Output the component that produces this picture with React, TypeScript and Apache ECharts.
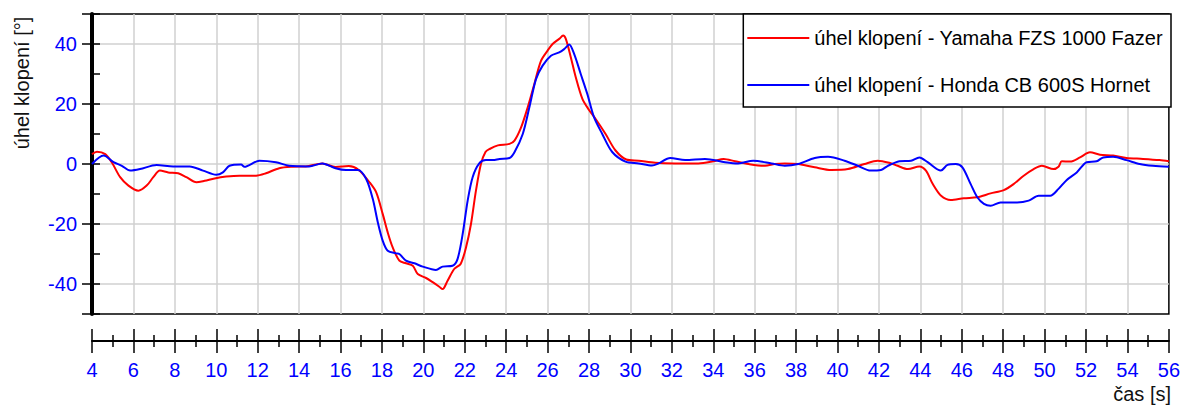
import React, { useEffect, useRef } from 'react';
import * as echarts from 'echarts';

// Bank angle over time, two motorcycles
const yamahaTime = [
  4.0, 4.24, 4.64, 4.96, 5.36, 5.76, 6.24, 6.64, 6.96, 7.28, 7.68, 8.16, 8.56, 9.04, 9.44, 9.92,
  10.48, 11.12, 11.92, 12.4, 13.04, 13.68, 14.32, 15.12, 15.76, 16.4, 16.88, 17.4, 17.72, 18.04,
  18.28, 18.52, 18.84, 19.16, 19.49, 19.73, 20.13, 20.45, 20.77, 20.93, 21.17, 21.49, 21.8, 22.06,
  22.3, 22.54, 22.78, 23.0, 23.2, 23.6, 24.16, 24.4, 24.72, 25.04, 25.36, 25.68, 26.0, 26.24,
  26.56, 26.75, 26.88, 27.12, 27.36, 27.68, 28.0, 28.32, 28.8, 29.28, 29.8, 30.4, 31.2, 32.16,
  33.28, 34.0, 34.5, 35.05, 35.7, 36.5, 36.97, 37.45, 38.1, 38.9, 39.7, 40.5, 41.3, 41.94, 42.5,
  42.9, 43.4, 43.95, 44.27, 44.6, 45.0, 45.47, 46.1, 46.75, 47.39, 48.03, 48.5, 48.99, 49.47,
  49.87, 50.43, 50.67, 50.83, 51.23, 51.71, 52.19, 52.67, 53.31, 53.95, 54.75, 55.55, 56.0,
];
const yamahaAngle = [
  3.3, 4.1, 3.3, 0.5, -4.4, -7.2, -8.9, -7.2, -4.4, -2.2, -2.8, -3.1, -4.4, -6.1, -5.6, -4.8,
  -4.2, -3.9, -3.9, -3.1, -1.4, -0.9, -0.8, 0.2, -1.0, -0.7, -2.0, -6.1, -9.4, -16.7,
  -22.8, -27.8, -32.2, -33.1, -33.9, -36.7, -38.0, -39.4, -40.9, -41.7, -38.9, -35.0, -33.3, -27.8,
  -20.0, -8.9, 0.0, 4.0, 5.0, 6.2, 6.7, 7.8, 12.2, 18.9, 26.7, 34.4, 37.8, 40.0,
  41.7, 42.8, 41.7, 35.6, 28.9, 21.7, 18.0, 15.0, 10.0, 4.5, 1.5, 1.1, 0.4, 0.2,
  0.2, 0.9, 1.7, 0.9, 0.0, -0.6, 0.0, 0.2, 0.0, -1.1, -2.0, -1.7, 0.0, 1.1, 0.4,
  -0.6, -1.7, -0.8, -2.2, -6.7, -10.6, -12.0, -11.4, -11.1, -9.8, -8.7, -6.7, -3.9, -1.7,
  -0.6, -1.7, -0.9, 0.9, 0.8, 2.2, 3.9, 3.1, 2.8, 2.0, 1.7, 1.3, 0.9,
];

const hondaTime = [
  4.0, 4.56, 5.04, 5.44, 5.84, 6.32, 7.12, 7.92, 8.72, 9.36, 10.0, 10.32, 10.64, 11.2, 11.36,
  12.08, 12.88, 13.52, 14.48, 15.12, 15.76, 16.27, 16.84, 17.24, 17.56, 17.8, 18.04, 18.28, 18.68,
  18.84, 19.16, 19.57, 19.97, 20.61, 20.93, 21.41, 21.65, 21.9, 22.14, 22.38, 22.7, 23.02, 23.36,
  23.68, 24.16, 24.4, 24.8, 25.12, 25.44, 25.76, 26.16, 26.56, 26.8, 27.04, 27.28, 27.6, 27.92,
  28.24, 28.64, 29.12, 29.76, 30.4, 31.04, 31.36, 31.92, 32.64, 33.6, 34.57, 35.2, 35.93, 36.81,
  37.45, 38.1, 38.9, 39.54, 40.34, 40.98, 41.6, 42.1, 42.43, 42.99, 43.55, 43.95, 44.35, 44.99,
  45.31, 45.71, 46.03, 46.43, 46.75, 47.07, 47.39, 47.87, 48.67, 49.23, 49.71, 50.27, 50.67,
  51.07, 51.55, 52.03, 52.51, 52.83, 53.31, 53.95, 54.59, 55.23, 56.0,
];
const hondaAngle = [
  0.0, 2.8, 0.6, -0.6, -2.2, -1.7, -0.3, -0.8, -0.8, -2.2, -3.6, -2.8, -0.6, -0.2, -0.9,
  1.1, 0.6, -0.6, -0.8, 0.2, -1.4, -2.0, -2.0, -5.0, -11.7, -19.4, -25.6, -28.9, -29.8,
  -30.0, -32.2, -33.1, -34.2, -35.3, -34.2, -33.9, -31.7, -23.3, -12.2, -4.4, 0.2, 1.3, 1.3,
  1.7, 2.0, 3.9, 10.0, 18.9, 28.3, 32.8, 36.1, 37.2, 38.3, 39.8, 36.7, 30.0, 23.3,
  15.6, 10.0, 4.0, 0.8, 0.2, -0.5, 0.2, 2.0, 1.3, 1.7, 0.6, 0.2, 1.1, 0.2,
  -0.6, 0.0, 2.0, 2.4, 1.1, -0.6, -2.2, -2.0, -0.6, 0.9, 1.1, 2.2, 0.6, -2.2,
  -0.3, 0.0, -1.1, -6.7, -11.1, -13.3, -13.9, -12.8, -12.8, -12.2, -10.6, -10.6, -8.3,
  -5.3, -2.8, 0.6, 0.9, 2.2, 2.4, 1.3, 0.0, -0.6, -0.9,
];

const yamahaName = 'úhel klopení - Yamaha FZS 1000 Fazer';
const hondaName = 'úhel klopení - Honda CB 600S Hornet';
const yAxisTitle = 'úhel klopení [°]';
const xAxisTitle = 'čas [s]';

const timeMin = 4;
const timeMax = 56;
const timeStep = 2;
const angleMin = -50;
const angleMax = 50;

const FONT = '"Liberation Sans", Arial, sans-serif';
const LABEL_BLUE = '#0000ff';
const GRID_GRAY = '#d0d0d0';

const pairs = (xs: number[], ys: number[]) => xs.map((x, i) => [x, ys[i]]);

export default function App() {
  const ref = useRef<HTMLDivElement>(null);

  useEffect(() => {
    if (!ref.current) return;
    const chart = echarts.init(ref.current, null, { renderer: 'svg' });

    const timeAxisBase = {
      type: 'value' as const,
      min: timeMin,
      max: timeMax,
      interval: timeStep,
      position: 'bottom' as const,
    };

    const angleAxisBase = {
      type: 'value' as const,
      min: angleMin,
      max: angleMax,
      splitNumber: 5,
      position: 'left' as const,
    };

    chart.setOption({
      animation: false,
      backgroundColor: '#ffffff',
      textStyle: { fontFamily: FONT },
      grid: {
        left: 92,
        right: 12,
        top: 14,
        bottom: 91,
        show: true,
        borderColor: '#000',
        borderWidth: 1.5,
        backgroundColor: 'transparent',
      },
      legend: {
        orient: 'vertical',
        right: 12,
        top: 14,
        padding: [14, 8, 12, 4],
        itemGap: 27,
        itemWidth: 62,
        itemHeight: 2,
        icon: 'rect',
        selectedMode: false,
        backgroundColor: '#ffffff',
        borderColor: '#000',
        borderWidth: 1.5,
        textStyle: { fontFamily: FONT, fontSize: 20, lineHeight: 20, color: '#000' },
        data: [yamahaName, hondaName],
      },
      xAxis: [
        {
          ...timeAxisBase,
          axisLine: { show: false, onZero: false },
          axisTick: { show: false },
          axisLabel: { show: false },
          splitLine: {
            show: true,
            showMinLine: false,
            showMaxLine: false,
            lineStyle: { color: GRID_GRAY, width: 1.5 },
          },
        },
        {
          ...timeAxisBase,
          offset: 27,
          axisLine: { show: true, onZero: false, lineStyle: { color: '#000', width: 2 } },
          axisTick: { show: true, length: 12, lineStyle: { color: '#000', width: 1.5 } },
          minorTick: { show: true, splitNumber: 2, length: 6, lineStyle: { color: '#000', width: 1.5 } },
          axisLabel: { show: true, color: LABEL_BLUE, fontSize: 20, fontFamily: FONT, margin: 19 },
          splitLine: { show: false },
        },
        {
          ...timeAxisBase,
          offset: 27,
          axisLine: { show: false, onZero: false },
          axisTick: { show: true, inside: true, length: 12, lineStyle: { color: '#000', width: 1.5 } },
          minorTick: { show: true, splitNumber: 2, length: 6, lineStyle: { color: '#000', width: 1.5 } },
          axisLabel: { show: false },
          splitLine: { show: false },
        },
      ],
      yAxis: [
        {
          ...angleAxisBase,
          axisLine: { show: true, onZero: false, lineStyle: { color: '#000', width: 4 } },
          axisTick: { show: true, length: 10, lineStyle: { color: '#000', width: 1.5 } },
          axisLabel: {
            show: true,
            color: LABEL_BLUE,
            fontSize: 20,
            fontFamily: FONT,
            margin: 15,
            formatter: (v: number) => (v % 20 === 0 ? String(v) : ''),
          },
          splitLine: {
            show: true,
            showMinLine: false,
            showMaxLine: false,
            lineStyle: { color: GRID_GRAY, width: 1.5 },
          },
        },
        {
          ...angleAxisBase,
          axisLine: { show: false, onZero: false },
          axisTick: { show: true, inside: true, length: 8, lineStyle: { color: '#000', width: 1.5 } },
          minorTick: { show: true, splitNumber: 2, length: 8, lineStyle: { color: '#000', width: 1.5 } },
          axisLabel: { show: false },
          splitLine: { show: false },
        },
      ],
      graphic: [
        {
          type: 'text',
          x: 22,
          y: 83,
          rotation: Math.PI / 2,
          style: {
            text: yAxisTitle,
            fill: '#111',
            fontSize: 20,
            fontFamily: FONT,
            align: 'center',
            verticalAlign: 'middle',
          },
        },
        {
          type: 'text',
          x: 1171,
          y: 394,
          style: {
            text: xAxisTitle,
            fill: '#111',
            fontSize: 20,
            fontFamily: FONT,
            align: 'right',
            verticalAlign: 'middle',
          },
        },
      ],
      series: [
        {
          name: yamahaName,
          type: 'line',
          data: pairs(yamahaTime, yamahaAngle),
          showSymbol: false,
          symbol: 'none',
          smooth: 0.3,
          color: '#ff0000',
          lineStyle: { color: '#ff0000', width: 2 },
          z: 3,
        },
        {
          name: hondaName,
          type: 'line',
          data: pairs(hondaTime, hondaAngle),
          showSymbol: false,
          symbol: 'none',
          smooth: 0.3,
          color: '#0000ff',
          lineStyle: { color: '#0000ff', width: 2 },
          z: 3,
        },
      ],
    });

    return () => chart.dispose();
  }, []);

  return (
    <div
      ref={ref}
      style={{ position: 'fixed', left: 0, top: 0, width: 1183, height: 405, background: '#fff' }}
    />
  );
}
